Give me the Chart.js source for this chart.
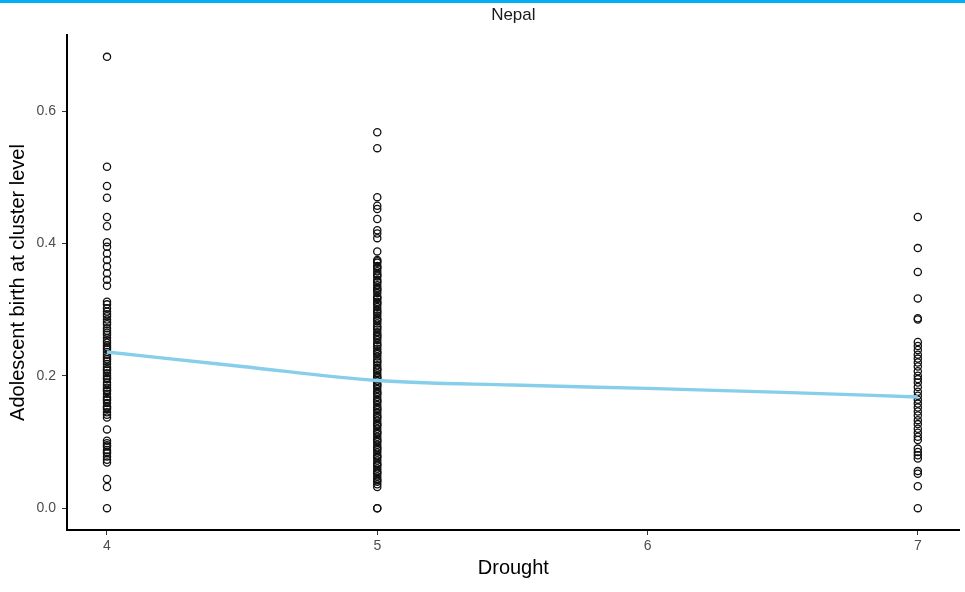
<!DOCTYPE html>
<html>
<head>
<meta charset="utf-8">
<script src="https://cdn.jsdelivr.net/npm/chart.js@4/dist/chart.umd.min.js"></script>
<style>
  html, body { margin: 0; padding: 0; background: #fff; }
  #wrap { position: relative; width: 965px; height: 592px; }
  #band { position: absolute; left: 0; top: 0; width: 965px; height: 3px; background: rgb(0,176,240); }
  canvas { position: absolute; left: 0; top: 0; }
</style>
</head>
<body>
<div id="wrap">
  <canvas id="c" width="965" height="592"></canvas>
  <div id="band"></div>
</div>
<script>
// Drought levels (x categories)
const droughtLevels = [4, 5, 7];

// Adolescent birth at cluster level, per drought level
const adol4 = [0.682, 0.516, 0.487, 0.469, 0.44, 0.426, 0.402, 0.395, 0.385, 0.375, 0.365, 0.355, 0.345, 0.336,
  0.312, 0.308, 0.302, 0.297, 0.293, 0.29, 0.285, 0.281, 0.278, 0.272, 0.268, 0.265, 0.262, 0.257, 0.253, 0.25,
  0.246, 0.243, 0.24, 0.236, 0.232, 0.228, 0.225, 0.222, 0.218, 0.213, 0.21, 0.208, 0.204, 0.2, 0.197, 0.195,
  0.19, 0.186, 0.182, 0.179, 0.177, 0.173, 0.168, 0.165, 0.163, 0.159, 0.154, 0.152, 0.15, 0.145, 0.141, 0.137,
  0.119, 0.102, 0.098, 0.095, 0.093, 0.088, 0.085, 0.083, 0.078, 0.073, 0.069, 0.044, 0.032, 0.0];

const adol5 = [0.568, 0.544, 0.47, 0.457, 0.452, 0.437, 0.42, 0.415, 0.408, 0.388,
  0.375, 0.373, 0.371, 0.366, 0.364, 0.362, 0.358, 0.354, 0.352, 0.35, 0.345, 0.343, 0.341, 0.337, 0.333, 0.331,
  0.329, 0.325, 0.32, 0.318, 0.316, 0.312, 0.31, 0.308, 0.304, 0.3, 0.297, 0.295, 0.291, 0.287, 0.285, 0.283,
  0.279, 0.275, 0.273, 0.27, 0.266, 0.262, 0.26, 0.258, 0.254, 0.25, 0.247, 0.245, 0.241, 0.237, 0.235, 0.233,
  0.229, 0.225, 0.222, 0.22, 0.216, 0.212, 0.21, 0.208, 0.204, 0.2, 0.198, 0.196, 0.192, 0.188, 0.186, 0.184,
  0.18, 0.176, 0.174, 0.172, 0.168, 0.164, 0.162, 0.16, 0.156, 0.152, 0.15, 0.148, 0.144, 0.14, 0.138, 0.136,
  0.132, 0.128, 0.126, 0.124, 0.12, 0.116, 0.114, 0.112, 0.108, 0.104, 0.102, 0.1, 0.096, 0.092, 0.09, 0.088,
  0.084, 0.08, 0.078, 0.076, 0.072, 0.068, 0.066, 0.064, 0.06, 0.056, 0.054, 0.052, 0.048, 0.044, 0.042, 0.04,
  0.036, 0.032, 0.0, 0.0];

const adol7 = [0.44, 0.393, 0.357, 0.317, 0.287, 0.285, 0.251, 0.245, 0.239, 0.232, 0.226, 0.22, 0.214, 0.207,
  0.2, 0.195, 0.19, 0.183, 0.176, 0.17, 0.164, 0.158, 0.152, 0.146, 0.14, 0.133, 0.127, 0.12, 0.114, 0.108,
  0.103, 0.09, 0.085, 0.08, 0.075, 0.056, 0.052, 0.033, 0.0];

// Smoothed (loess) fit
const fitX = [4, 4.5, 5, 5.5, 6, 6.5, 7];
const fitY = [0.236, 0.214, 0.193, 0.186, 0.181, 0.175, 0.168];

// Axis ticks
const xTicks = [4, 5, 6, 7];
const yTicks = [0.0, 0.2, 0.4, 0.6];

const adolByLevel = [adol4, adol5, adol7];
const scatterPts = [];
droughtLevels.forEach((lvl, i) => adolByLevel[i].forEach(v => scatterPts.push({ x: lvl, y: v })));
const fitPts = fitX.map((x, i) => ({ x: x, y: fitY[i] }));

const FONT = "'Liberation Sans', Arial, Helvetica, sans-serif";

new Chart(document.getElementById('c'), {
  type: 'scatter',
  data: {
    datasets: [
      {
        type: 'line',
        data: fitPts,
        borderColor: '#87CEEB',
        borderWidth: 3.4,
        pointRadius: 0,
        fill: false,
        cubicInterpolationMode: 'monotone',
        order: 0
      },
      {
        data: scatterPts,
        pointStyle: 'circle',
        pointRadius: 3.6,
        borderColor: '#111',
        borderWidth: 1.3,
        backgroundColor: 'rgba(0,0,0,0)',
        order: 1
      }
    ]
  },
  options: {
    responsive: false,
    animation: false,
    events: [],
    layout: { padding: { left: 0, right: 5, top: 0, bottom: 0 } },
    plugins: {
      legend: { display: false },
      tooltip: { enabled: false },
      title: {
        display: true,
        fullSize: false,
        text: 'Nepal',
        color: '#1a1a1a',
        font: { family: FONT, size: 17, weight: 'normal' },
        padding: { top: 5, bottom: 9.6 }
      }
    },
    scales: {
      x: {
        type: 'linear',
        min: 3.852,
        max: 7.155,
        afterBuildTicks: (s) => { s.ticks = xTicks.map(v => ({ value: v })); },
        afterFit: (s) => { s.height = 62; },
        border: { display: true, color: '#000', width: 2 },
        grid: { display: true, drawOnChartArea: false, drawTicks: true, tickLength: 5, color: '#333', lineWidth: 1 },
        ticks: { color: '#4d4d4d', font: { family: FONT, size: 14 }, padding: 3,
                 callback: (v) => String(v) },
        title: { display: true, text: 'Drought', color: '#000', font: { family: FONT, size: 20 },
                 padding: { top: 0, bottom: 12 } }
      },
      y: {
        type: 'linear',
        min: -0.033,
        max: 0.715,
        afterBuildTicks: (s) => { s.ticks = yTicks.map(v => ({ value: v })); },
        afterFit: (s) => { s.width = 67; },
        border: { display: true, color: '#000', width: 2 },
        grid: { display: true, drawOnChartArea: false, drawTicks: true, tickLength: 5, color: '#333', lineWidth: 1 },
        ticks: { color: '#4d4d4d', font: { family: FONT, size: 14 }, padding: 6,
                 callback: (v) => Number(v).toFixed(1) },
        title: { display: true, text: 'Adolescent birth at cluster level', color: '#000',
                 font: { family: FONT, size: 20 }, padding: { top: 6, bottom: 0 } }
      }
    }
  }
});
</script>
</body>
</html>
